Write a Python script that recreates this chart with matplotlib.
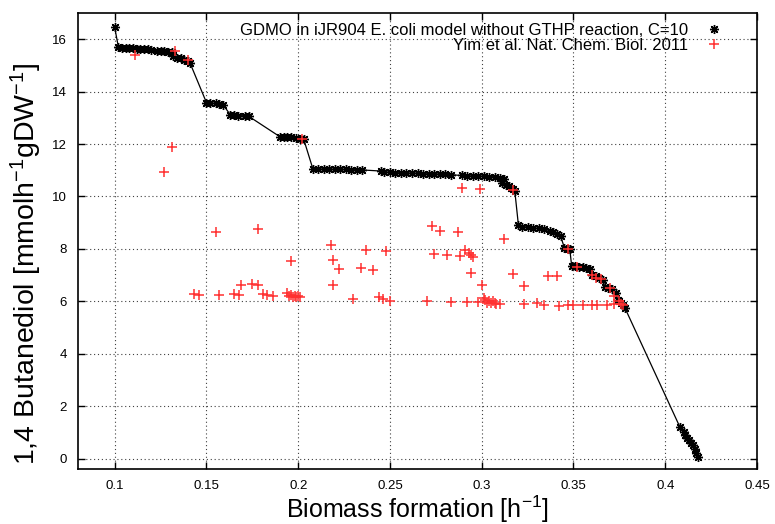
import matplotlib
matplotlib.use("Agg")
import matplotlib.pyplot as plt

plt.rcParams['font.family'] = ['Liberation Sans', 'DejaVu Sans']
plt.rcParams['mathtext.fontset'] = 'custom'
plt.rcParams['mathtext.rm'] = 'Liberation Sans'
plt.rcParams['mathtext.it'] = 'Liberation Sans:italic'

# GDMO pareto front (black stars, connected)
gdmo_x = [0.100,
          0.102, 0.104, 0.106, 0.108, 0.110, 0.112, 0.114, 0.116, 0.118, 0.120,
          0.123, 0.125, 0.127, 0.129, 0.131,
          0.132, 0.134, 0.136, 0.138, 0.140, 0.141,
          0.150, 0.152, 0.155, 0.157, 0.159,
          0.163, 0.165, 0.167, 0.171, 0.173,
          0.190, 0.192, 0.194, 0.196, 0.199, 0.201, 0.203,
          0.208, 0.211, 0.214, 0.217, 0.220, 0.223, 0.226, 0.229, 0.232, 0.235,
          0.245, 0.247, 0.250, 0.253, 0.256, 0.259, 0.262, 0.265, 0.268, 0.271, 0.274, 0.277, 0.280, 0.283,
          0.289, 0.292, 0.295, 0.298, 0.301, 0.304, 0.307, 0.310, 0.312,
          0.311, 0.313, 0.315, 0.316, 0.317, 0.318,
          0.320, 0.322, 0.325, 0.328, 0.331, 0.334, 0.337, 0.339, 0.341, 0.343,
          0.345, 0.347, 0.348,
          0.349, 0.351, 0.353, 0.355, 0.357, 0.359,
          0.360, 0.362, 0.364, 0.366,
          0.367, 0.369, 0.371, 0.373,
          0.374, 0.375, 0.376, 0.377, 0.378,
          0.408, 0.410, 0.411, 0.412, 0.413, 0.414, 0.415, 0.416, 0.417, 0.418]
gdmo_y = [16.45,
          15.70, 15.68, 15.66, 15.66, 15.65, 15.64, 15.63, 15.62, 15.61, 15.60,
          15.56, 15.55, 15.54, 15.53, 15.50,
          15.35, 15.30, 15.28, 15.22, 15.15, 15.10,
          13.58, 13.56, 13.55, 13.53, 13.50,
          13.12, 13.10, 13.08, 13.08, 13.06,
          12.28, 12.27, 12.27, 12.26, 12.22, 12.20, 12.18,
          11.05, 11.05, 11.04, 11.04, 11.03, 11.03, 11.03, 11.02, 11.02, 11.01,
          10.97, 10.93, 10.92, 10.91, 10.90, 10.89, 10.89, 10.88, 10.87, 10.86, 10.86, 10.85, 10.84, 10.83,
          10.80, 10.79, 10.78, 10.78, 10.77, 10.76, 10.75, 10.72, 10.68,
          10.50, 10.45, 10.40, 10.33, 10.28, 10.22,
          8.90, 8.85, 8.83, 8.80, 8.78, 8.75, 8.70, 8.65, 8.58, 8.48,
          8.05, 8.00, 7.98,
          7.35, 7.33, 7.32, 7.30, 7.28, 7.25,
          7.00, 6.95, 6.90, 6.80,
          6.55, 6.50, 6.45, 6.30,
          6.05, 6.00, 5.95, 5.85, 5.75,
          1.20, 1.00, 0.90, 0.80, 0.70, 0.60, 0.50, 0.35, 0.20, 0.05]

# Yim et al. 2011 designs (red crosses)
yim_x = [0.111, 0.133, 0.140, 0.131, 0.127, 0.202,
         0.155, 0.178, 0.218, 0.219, 0.196, 0.222, 0.219, 0.169, 0.175, 0.178,
         0.143, 0.146, 0.157, 0.165, 0.168, 0.181, 0.183, 0.186,
         0.194, 0.195, 0.196, 0.197, 0.198, 0.199, 0.200, 0.201,
         0.289, 0.299, 0.273, 0.277, 0.287, 0.312,
         0.237, 0.248, 0.234, 0.241,
         0.230, 0.244, 0.246, 0.250,
         0.270, 0.283, 0.292, 0.298, 0.301,
         0.302, 0.303, 0.304, 0.305, 0.306, 0.307, 0.308, 0.310,
         0.323, 0.330, 0.334, 0.342, 0.347,
         0.274, 0.281, 0.288, 0.291, 0.293, 0.294, 0.295,
         0.294, 0.300, 0.317, 0.323, 0.336, 0.341,
         0.317, 0.347,
         0.352, 0.360, 0.362, 0.365, 0.370, 0.372, 0.375, 0.376, 0.377,
         0.350, 0.355, 0.360, 0.363, 0.368, 0.372]
yim_y = [15.39, 15.54, 15.20, 11.89, 10.93, 12.19,
         8.65, 8.76, 8.15, 7.58, 7.54, 7.24, 6.63, 6.63, 6.67, 6.63,
         6.27, 6.24, 6.25, 6.27, 6.24, 6.28, 6.24, 6.22,
         6.30, 6.22, 6.25, 6.18, 6.22, 6.15, 6.20, 6.17,
         10.32, 10.29, 8.88, 8.69, 8.65, 8.38,
         7.96, 7.92, 7.27, 7.20,
         6.10, 6.17, 6.10, 6.02,
         6.02, 5.98, 5.98, 5.98, 6.13,
         6.05, 5.95, 6.02, 5.92, 6.00, 5.95, 5.90, 5.90,
         5.90, 5.94, 5.87, 5.83, 5.87,
         7.80, 7.77, 7.73, 7.96, 7.85, 7.75, 7.70,
         7.09, 6.63, 7.05, 6.59, 6.97, 6.97,
         10.25, 8.00,
         7.30, 7.00, 6.90, 6.85, 6.50, 6.20, 6.00, 5.90, 5.85,
         5.85, 5.85, 5.87, 5.85, 5.85, 5.90]

fig = plt.figure(figsize=(7.75, 5.24), dpi=100)
ax = fig.add_axes([78 / 775, 1 - 469 / 524, (757 - 78) / 775, (469 - 13) / 524])

# connecting line, then the points on top
ax.plot(gdmo_x, gdmo_y, color='black', lw=0.9)
ax.plot(gdmo_x, gdmo_y, ls='none', color='black', marker=(8, 2, 0), ms=6.5, mew=1.0,
        label='GDMO in iJR904 E. coli model without GTHP reaction, C=10')
ax.plot(yim_x, yim_y, ls='none', color='#ff3030', marker='+', ms=7, mew=1.1,
        label='Yim et al. Nat. Chem. Biol. 2011')

ax.set_xlim(0.08, 0.45)
ax.set_ylim(-0.4, 17)
ax.set_xticks([0.1, 0.15, 0.2, 0.25, 0.3, 0.35, 0.4, 0.45])
ax.set_xticklabels(['0.1', '0.15', '0.2', '0.25', '0.3', '0.35', '0.4', '0.45'])
ax.set_yticks(range(0, 17, 2))
ax.tick_params(direction='in', top=True, right=True, length=5, width=1, labelsize=9.5, pad=8)
ax.grid(True, color='0.25', ls=(0, (1, 2.5)), lw=0.8)
for s in ax.spines.values():
    s.set_linewidth(1.2)

ax.set_xlabel('Biomass formation [h$^{\\mathregular{-1}}$]', fontsize=18, labelpad=1)
ax.set_ylabel('1,4 Butanediol [mmolh$^{\\mathregular{-1}}$gDW$^{\\mathregular{-1}}$]', fontsize=20.5)
ax.yaxis.set_label_coords(-0.05, 0.45)

leg = ax.legend(loc='upper right', bbox_to_anchor=(0.959, 0.993), borderaxespad=0,
                markerfirst=False, frameon=False, fontsize=12, numpoints=1,
                labelspacing=0.0, handlelength=1.0, handletextpad=1.04)

fig.savefig('out.png', dpi=100)
